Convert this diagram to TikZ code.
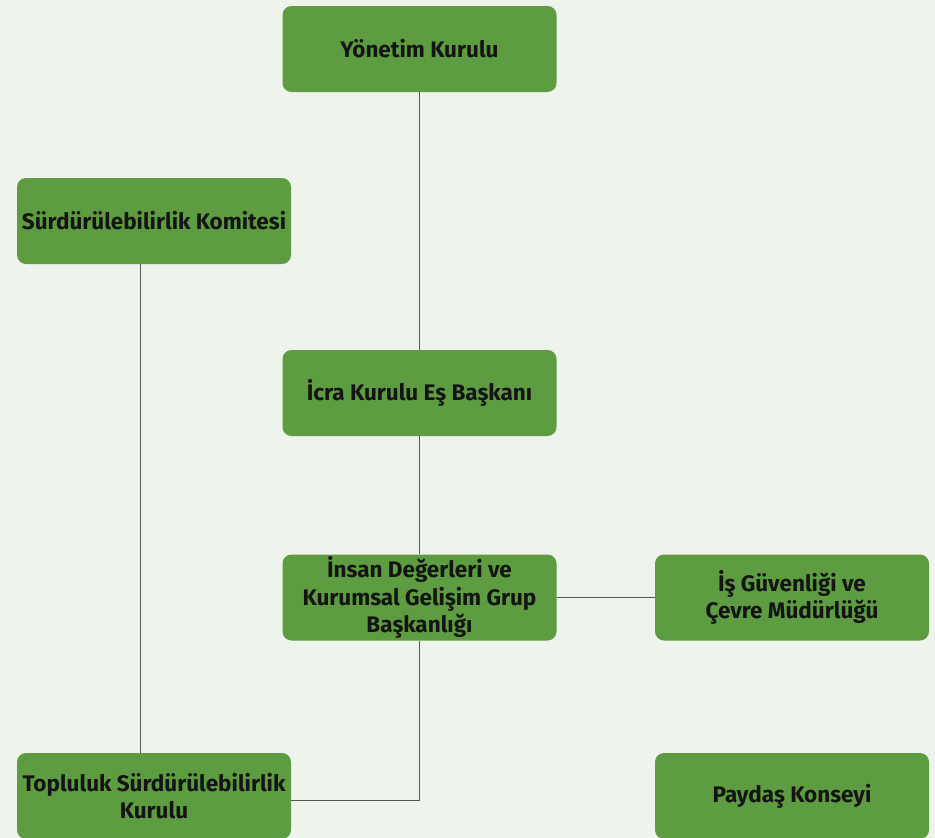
\documentclass[tikz,border=0pt]{standalone}
\usepackage{fontspec}
\setmainfont{Fira Sans}
\definecolor{bggreen}{HTML}{EEF3EC}
\definecolor{boxgreen}{HTML}{5E9C41}
\definecolor{linegray}{HTML}{555555}
\tikzset{
  unit/.style={fill=boxgreen, rounded corners=9pt, minimum width=274pt, minimum height=86pt,
    inner sep=1pt, align=center, text=black!92, font=\fontsize{22.5}{27.5}\selectfont\bfseries},
  link/.style={draw=linegray, line width=1pt}
}

\begin{document}
\begin{tikzpicture}[x=1pt,y=-1pt]
\useasboundingbox (0,0) rectangle (935,838);
\fill[bggreen] (0,0) rectangle (935,838);
% boxes
\node[unit] (yk) at (419.5,49) {Yönetim Kurulu};
\node[unit] (sk) at (154,221) {Sürdürülebilirlik Komitesi};
\node[unit] (ik) at (419.5,393) {İcra Kurulu Eş Başkanı};
\node[unit] (id) at (419.5,597.5) {İnsan Değerleri ve\\Kurumsal Gelişim Grup\\Başkanlığı};
\node[unit] (ig) at (792,597.5) {İş Güvenliği ve\\Çevre Müdürlüğü};
\node[unit] (tk) at (154,796) {Topluluk Sürdürülebilirlik\\Kurulu};
\node[unit] (pk) at (792,796) {Paydaş Konseyi};
% connectors
\draw[link] (yk.south) -- (ik.north);
\draw[link] (ik.south) -- (id.north);
\draw[link] (id.east) -- (ig.west);
\draw[link] (id.south) |- ([yshift=-4pt]tk.east);
\draw[link] ([xshift=-14pt]sk.south) -- ([xshift=-14pt]tk.north);
\end{tikzpicture}
\end{document}
